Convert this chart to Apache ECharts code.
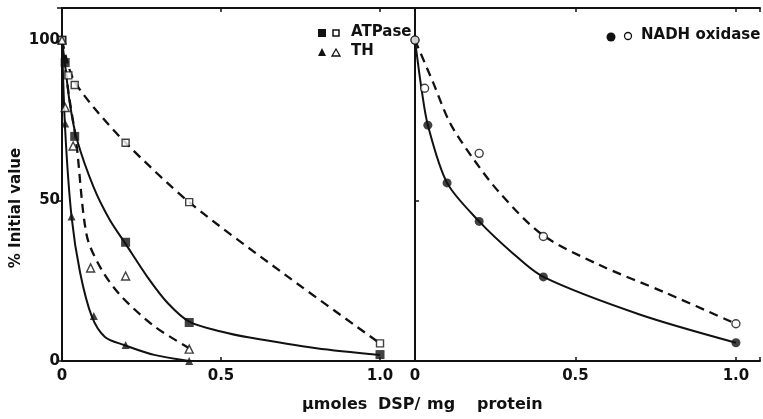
<!DOCTYPE html>
<html>
<head>
<meta charset="utf-8">
<script src="https://cdn.jsdelivr.net/npm/echarts@6/dist/echarts.min.js"></script>
<style>
html,body{margin:0;padding:0;background:#fff;}
#chart{width:763px;height:419px;}
</style>
</head>
<body>
<div id="chart"></div>
<script>
// ---- Data ----
// Left panel: ATPase measured points
const atpFilledX = [0, 0.01, 0.04, 0.2, 0.4, 1.0];
const atpFilledY = [100, 93, 70, 37, 12, 2];
const atpOpenX = [0, 0.02, 0.04, 0.2, 0.4, 1.0];
const atpOpenY = [100, 89, 86, 68, 49.5, 5.5];
// Left panel: TH measured points
const thFilledX = [0, 0.01, 0.03, 0.1, 0.2, 0.4];
const thFilledY = [100, 74, 45, 14, 5, 0];
const thOpenX = [0, 0.01, 0.035, 0.09, 0.2, 0.4];
const thOpenY = [100, 79, 67, 29, 26.5, 3.7];
// Right panel: NADH oxidase measured points
const nadhFilledX = [0, 0.04, 0.1, 0.2, 0.4, 1.0];
const nadhFilledY = [100, 73.5, 55.5, 43.5, 26.2, 5.7];
const nadhOpenX = [0, 0.03, 0.2, 0.4, 1.0];
const nadhOpenY = [100, 85, 64.7, 38.8, 11.6];

// Hand-drawn fitted curves
const atpSolidCurveX = [0, 0.01, 0.025, 0.047, 0.1, 0.15, 0.2, 0.27, 0.333, 0.4, 0.5, 0.59, 0.8, 1.0];
const atpSolidCurveY = [100, 92, 80, 69, 54, 44, 36.5, 26, 18, 12.3, 9.2, 7.3, 4, 1.9];
const atpDashCurveX = [0, 0.02, 0.04, 0.1, 0.2, 0.4, 0.7, 1.0];
const atpDashCurveY = [100, 92, 87, 79, 68, 49.5, 27, 5.5];
const thSolidCurveX = [0, 0.01, 0.03, 0.057, 0.094, 0.135, 0.195, 0.29, 0.4];
const thSolidCurveY = [100, 72, 45, 27.5, 13.8, 7.5, 5, 1.9, 0];
const thDashCurveX = [0, 0.02, 0.045, 0.078, 0.125, 0.188, 0.292, 0.4];
const thDashCurveY = [100, 84, 68, 39, 28.4, 20, 10.7, 4];
const nadhSolidCurveX = [0, 0.02, 0.04, 0.1, 0.2, 0.3, 0.4, 0.7, 1.0];
const nadhSolidCurveY = [100, 85, 73.5, 55.5, 43.5, 34, 26.2, 14.5, 5.7];
const nadhDashCurveX = [0, 0.056, 0.108, 0.176, 0.263, 0.396, 0.573, 0.78, 1.0];
const nadhDashCurveY = [100, 86.9, 74.4, 63.8, 52.5, 39.4, 30, 21.3, 11.6];

// Axis ticks and titles
const xTicks = {0: '0', 0.5: '0.5', 1: '1.0'};
const yTicks = {0: '0', 50: '50', 100: '100'};
const xTitleWords = ['μmoles', 'DSP/', 'mg', 'protein'];
const yTitle = '% Initial value';

const zip = (xs, ys) => xs.map((x, i) => [x, ys[i]]);

const INK = '#111';
const FONT = '"DejaVu Sans", "Liberation Sans", Arial, sans-serif';

const chart = echarts.init(document.getElementById('chart'), null, {renderer: 'canvas'});

const xLabel = {
  show: true, color: INK, fontFamily: FONT, fontWeight: 'bold', fontSize: 15, margin: 8,
  formatter: v => (xTicks[v] !== undefined ? xTicks[v] : '')
};
function bottomX(grid, max) {
  return {
    gridIndex: grid, type: 'value', min: 0, max: max, interval: 0.5, position: 'bottom',
    axisLine: {show: true, onZero: false, lineStyle: {color: INK, width: 2}},
    axisTick: {show: true, inside: true, length: 4, lineStyle: {color: INK, width: 1.5}},
    axisLabel: xLabel, splitLine: {show: false}
  };
}
function topX(grid, max) {
  return {
    gridIndex: grid, type: 'value', min: 0, max: max, interval: 0.5, position: 'top',
    axisLine: {show: true, onZero: false, lineStyle: {color: INK, width: 2}},
    axisTick: {show: true, inside: true, length: 4, lineStyle: {color: INK, width: 1.5}},
    axisLabel: {show: false}, splitLine: {show: false}
  };
}

const curve = (name, xs, ys, dashed, xi) => ({
  name, type: 'line', xAxisIndex: xi, yAxisIndex: xi, data: zip(xs, ys),
  smooth: 0.3, symbol: 'none', showSymbol: false,
  lineStyle: {color: INK, width: dashed ? 2.3 : 2, type: dashed ? [9, 6] : 'solid'},
  z: 2, animation: false
});
const marks = (name, xs, ys, sym, size, filled, xi) => ({
  name, type: 'scatter', xAxisIndex: xi, yAxisIndex: xi, data: zip(xs, ys),
  symbol: sym, symbolSize: size,
  itemStyle: filled ? {color: INK} : {color: '#fff', borderColor: INK, borderWidth: 1.4},
  z: filled ? 4 : 5, animation: false
});

const titleX = [302, 378, 427, 477];

const option = {
  backgroundColor: '#fff',
  animation: false,
  grid: [
    {left: 62, top: 8, width: 353, height: 353},
    {left: 415, top: 8, width: 347, height: 353}
  ],
  xAxis: [bottomX(0, 1.11), bottomX(1, 1.075), topX(0, 1.11), topX(1, 1.075)],
  yAxis: [
    {
      gridIndex: 0, type: 'value', min: 0, max: 110, interval: 50,
      axisLine: {show: true, onZero: false, lineStyle: {color: INK, width: 2}},
      axisTick: {show: true, length: 5, lineStyle: {color: INK, width: 1.5}},
      axisLabel: {color: INK, fontFamily: FONT, fontWeight: 'bold', fontSize: 15, margin: 2,
        formatter: v => (yTicks[v] !== undefined ? yTicks[v] : '')},
      splitLine: {show: false}
    },
    {
      gridIndex: 1, type: 'value', min: 0, max: 110, interval: 50,
      axisLine: {show: true, onZero: false, lineStyle: {color: INK, width: 2}},
      axisTick: {show: true, inside: true, length: 4, lineStyle: {color: INK, width: 1.5}},
      axisLabel: {show: false}, splitLine: {show: false}
    }
  ],
  graphic: [
    ...xTitleWords.map((w, i) => ({type: 'text', left: titleX[i], top: 397,
      style: {text: w, fill: INK, font: 'bold 16px ' + FONT}})),
    {type: 'text', x: 16, y: 208, rotation: Math.PI / 2,
      style: {text: yTitle, fill: INK, font: 'bold 15px ' + FONT, align: 'center', verticalAlign: 'middle'}},
    // legend: ATPase
    {type: 'rect', shape: {x: 318, y: 29, width: 8, height: 8}, style: {fill: INK}},
    {type: 'rect', shape: {x: 333, y: 30, width: 6, height: 6}, style: {fill: '#fff', stroke: INK, lineWidth: 1.5}},
    {type: 'text', left: 351, top: 25, style: {text: 'ATPase', fill: INK, font: 'bold 15px ' + FONT}},
    // legend: TH
    {type: 'polygon', shape: {points: [[322, 48], [326, 56], [318, 56]]}, style: {fill: INK}},
    {type: 'polygon', shape: {points: [[336, 49], [340, 56], [332, 56]]}, style: {fill: '#fff', stroke: INK, lineWidth: 1.3}},
    {type: 'text', left: 351, top: 44, style: {text: 'TH', fill: INK, font: 'bold 15px ' + FONT}},
    // legend: NADH oxidase
    {type: 'circle', shape: {cx: 611, cy: 37, r: 4.5}, style: {fill: INK}},
    {type: 'circle', shape: {cx: 628, cy: 36, r: 3.5}, style: {fill: '#fff', stroke: INK, lineWidth: 1.3}},
    {type: 'text', left: 641, top: 28, style: {text: 'NADH oxidase', fill: INK, font: 'bold 15px ' + FONT}}
  ],
  series: [
    curve('ATPase fit', atpSolidCurveX, atpSolidCurveY, false, 0),
    curve('ATPase open fit', atpDashCurveX, atpDashCurveY, true, 0),
    curve('TH fit', thSolidCurveX, thSolidCurveY, false, 0),
    curve('TH open fit', thDashCurveX, thDashCurveY, true, 0),
    curve('NADH fit', nadhSolidCurveX, nadhSolidCurveY, false, 1),
    curve('NADH open fit', nadhDashCurveX, nadhDashCurveY, true, 1),
    marks('ATPase', atpFilledX, atpFilledY, 'rect', 9, true, 0),
    marks('ATPase open', atpOpenX, atpOpenY, 'rect', 7, false, 0),
    marks('TH', thFilledX, thFilledY, 'triangle', 8, true, 0),
    marks('TH open', thOpenX, thOpenY, 'triangle', 8, false, 0),
    marks('NADH oxidase', nadhFilledX, nadhFilledY, 'circle', 9, true, 1),
    marks('NADH oxidase open', nadhOpenX, nadhOpenY, 'circle', 8, false, 1)
  ]
};
chart.setOption(option);
</script>
</body>
</html>
